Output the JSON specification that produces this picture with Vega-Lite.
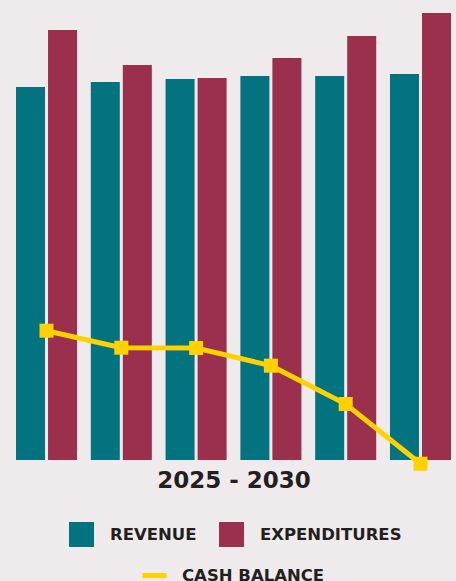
{
  "$schema": "https://vega.github.io/schema/vega-lite/v6.json",
  "autosize": {"type": "none"},
  "width": 456,
  "height": 460,
  "padding": {"left": 0, "top": 0, "right": 0, "bottom": 121},
  "background": "#EFEBEC",
  "config": {
    "view": {"stroke": null},
    "font": "DejaVu Sans"
  },
  "datasets": {
    "bars": [
      {"year": "2025", "series": "REVENUE", "value": 37.3},
      {"year": "2025", "series": "EXPENDITURES", "value": 43.0},
      {"year": "2026", "series": "REVENUE", "value": 37.8},
      {"year": "2026", "series": "EXPENDITURES", "value": 39.5},
      {"year": "2027", "series": "REVENUE", "value": 38.1},
      {"year": "2027", "series": "EXPENDITURES", "value": 38.2},
      {"year": "2028", "series": "REVENUE", "value": 38.4},
      {"year": "2028", "series": "EXPENDITURES", "value": 40.2},
      {"year": "2029", "series": "REVENUE", "value": 38.4},
      {"year": "2029", "series": "EXPENDITURES", "value": 42.4},
      {"year": "2030", "series": "REVENUE", "value": 38.6},
      {"year": "2030", "series": "EXPENDITURES", "value": 44.7}
    ],
    "cash": [
      {"year": "2025", "label": "CASH BALANCE", "cash": 12.93},
      {"year": "2026", "label": "CASH BALANCE", "cash": 11.23},
      {"year": "2027", "label": "CASH BALANCE", "cash": 11.2},
      {"year": "2028", "label": "CASH BALANCE", "cash": 9.43},
      {"year": "2029", "label": "CASH BALANCE", "cash": 5.6},
      {"year": "2030", "label": "CASH BALANCE", "cash": -0.37}
    ]
  },
  "encoding": {
    "x": {
      "field": "year",
      "type": "ordinal",
      "scale": {"range": [16, 451], "paddingInner": 0.184, "paddingOuter": 0},
      "axis": {
        "title": "2025 - 2030",
        "labels": false,
        "ticks": false,
        "domain": false,
        "grid": false,
        "titleFont": "DejaVu Sans",
        "titleFontSize": 23,
        "titleFontWeight": "bold",
        "titleColor": "#231F20",
        "titlePadding": 9
      }
    }
  },
  "layer": [
    {
      "data": {"name": "bars"},
      "mark": {"type": "bar"},
      "encoding": {
        "xOffset": {
          "field": "series",
          "type": "nominal",
          "sort": ["REVENUE", "EXPENDITURES"],
          "scale": {"paddingInner": 0.094, "paddingOuter": 0}
        },
        "y": {
          "field": "value",
          "type": "quantitative",
          "scale": {"domain": [0, 46], "nice": false},
          "axis": null
        },
        "color": {
          "field": "series",
          "type": "nominal",
          "scale": {"domain": ["REVENUE", "EXPENDITURES"], "range": ["#02737F", "#9A304E"]},
          "legend": {
            "title": null,
            "orient": "none",
            "direction": "horizontal",
            "legendX": 69,
            "legendY": 522,
            "padding": 0,
            "symbolType": "square",
            "symbolSize": 625,
            "symbolStrokeWidth": 0,
            "symbolOpacity": 1,
            "labelFont": "DejaVu Sans",
            "labelFontSize": 16.5,
            "labelFontWeight": "bold",
            "labelColor": "#231F20",
            "labelOffset": 16,
            "columnPadding": 22
          }
        }
      }
    },
    {
      "data": {"name": "cash"},
      "mark": {"type": "line", "strokeWidth": 5},
      "encoding": {
        "y": {"field": "cash", "type": "quantitative"},
        "stroke": {
          "field": "label",
          "type": "nominal",
          "scale": {"range": ["#FFD100"]},
          "legend": {
            "title": null,
            "orient": "none",
            "legendX": 140,
            "legendY": 561,
            "padding": 0,
            "symbolType": "stroke",
            "symbolSize": 576,
            "symbolStrokeWidth": 5,
            "labelFont": "DejaVu Sans",
            "labelFontSize": 16.5,
            "labelFontWeight": "bold",
            "labelColor": "#231F20",
            "labelOffset": 13
          }
        }
      }
    },
    {
      "data": {"name": "cash"},
      "mark": {"type": "point", "shape": "square", "filled": true, "size": 196, "color": "#FFD100", "opacity": 1},
      "encoding": {
        "y": {"field": "cash", "type": "quantitative"}
      }
    }
  ]
}
